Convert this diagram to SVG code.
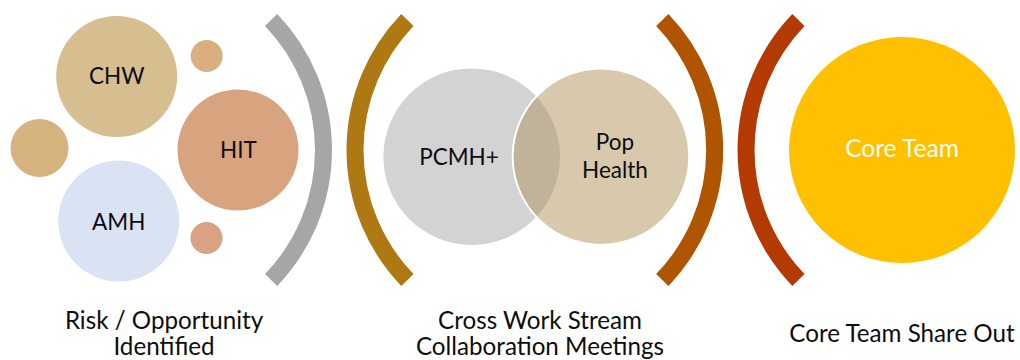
<svg xmlns="http://www.w3.org/2000/svg" width="1020" height="360" viewBox="0 0 1020 360">
  <style>
    .lbl { font-family: Lato, "Open Sans", "Liberation Sans", sans-serif; fill: #0d0d0d; text-anchor: middle; }
    .in { font-size: 22.5px; }
    .cap { font-size: 24.2px; }
    .bracket { fill: none; stroke-width: 17; stroke-linecap: butt; }
  </style>
  <defs>
    <clipPath id="popClip">
      <circle cx="601" cy="156.7" r="87.3"/>
    </clipPath>
  </defs>
  <rect width="1020" height="360" fill="#ffffff"/>

  <!-- Stage 1: risk / opportunity bubbles -->
  <g id="chw">
    <circle cx="116.7" cy="76.5" r="60.5" fill="#D7BE91"/>
    <text class="lbl in" x="116.7" y="83.5">CHW</text>
  </g>
  <g id="dot-top">
    <circle cx="206.7" cy="56" r="16" fill="#D9AF80"/>
  </g>
  <g id="dot-left">
    <circle cx="39.5" cy="148" r="29" fill="#D6B27E"/>
  </g>
  <g id="hit">
    <circle cx="238" cy="150" r="60.5" fill="#D8A47F"/>
    <text class="lbl in" x="238.5" y="158.3">HIT</text>
  </g>
  <g id="amh">
    <circle cx="118.7" cy="221" r="60.5" fill="#DAE3F3"/>
    <text class="lbl in" x="118.7" y="229.7">AMH</text>
  </g>
  <g id="dot-bottom">
    <circle cx="206.5" cy="238" r="16" fill="#D9A283"/>
  </g>

  <!-- Stage 2: overlapping work streams -->
  <g id="pcmh">
    <circle cx="471.7" cy="156.7" r="88.3" fill="#D3D3D3"/>
  </g>
  <g id="pop-health">
    <circle cx="601" cy="156.7" r="88.3" fill="#D8C9AC" stroke="#ffffff" stroke-width="2"/>
    <circle cx="471.7" cy="156.7" r="88.3" fill="#C0B399" clip-path="url(#popClip)"/>
  </g>
  <text class="lbl in" x="459" y="165">PCMH+</text>
  <text class="lbl in" x="615" y="150">Pop</text>
  <text class="lbl in" x="615" y="178.3">Health</text>

  <!-- Stage 3: core team -->
  <g id="core-team">
    <circle cx="902" cy="150" r="113" fill="#FFC000"/>
    <text class="lbl" x="902" y="157" style="fill:#ffffff;font-size:24.5px">Core Team</text>
  </g>

  <!-- Bracket arcs separating the stages -->
  <g id="connectors">
    <path class="bracket" stroke="#A6A6A6" d="M271.1,20 A187.5,187.5 0 0 1 271.1,280"/>
    <path class="bracket" stroke="#AE7813" d="M407.4,20 A187.5,187.5 0 0 0 407.4,280"/>
    <path class="bracket" stroke="#AF5500" d="M662.3,20 A187.5,187.5 0 0 1 662.3,280"/>
    <path class="bracket" stroke="#B33A00" d="M798.4,20 A187.5,187.5 0 0 0 798.4,280"/>
  </g>

  <!-- Stage captions -->
  <g id="captions">
    <text class="lbl cap" x="164" y="328.5">Risk / Opportunity</text>
    <text class="lbl cap" x="164" y="355">Identified</text>
    <text class="lbl cap" x="540" y="328.5">Cross Work Stream</text>
    <text class="lbl cap" x="540" y="355">Collaboration Meetings</text>
    <text class="lbl cap" x="902" y="341.7">Core Team Share Out</text>
  </g>
</svg>
